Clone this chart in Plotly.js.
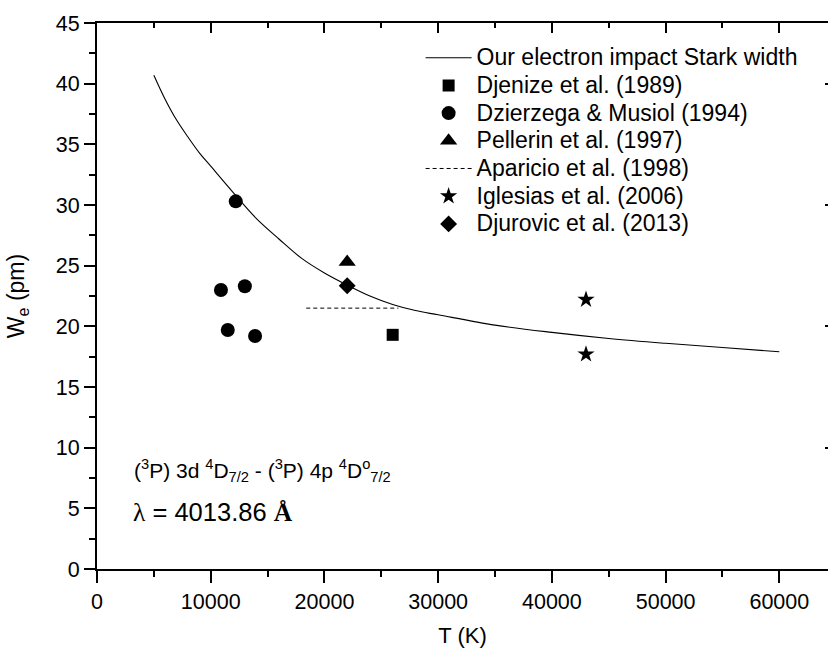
<!DOCTYPE html>
<html><head><meta charset="utf-8">
<script src="https://cdn.plot.ly/plotly-3.0.1.min.js"></script>
<style>body{margin:0;padding:0;background:#fff}</style>
</head><body>
<div id="chart" style="width:828px;height:652px"></div>
<script>
// Theory curve (electron impact Stark width)
var theoryT = [5000,6000,7000,8000,9000,10000,12000,14000,16000,18000,20000,22000,24000,26000,28000,30000,35000,40000,45000,50000,55000,60000];
var theoryW = [40.7,38.7,37.0,35.6,34.3,33.2,31.0,28.9,27.2,25.6,24.4,23.4,22.5,21.8,21.3,20.95,20.1,19.5,19.0,18.6,18.25,17.9];
// Experimental data
var djenizeT = [26000];            var djenizeW = [19.3];
var dzierzegaT = [12200,10900,13000,11500,13900]; var dzierzegaW = [30.3,23.0,23.3,19.7,19.2];
var pellerinT = [22000];           var pellerinW = [25.3];
var aparicioT = [18400,26500];     var aparicioW = [21.5,21.5];
var iglesiasT = [43000,43000];     var iglesiasW = [22.2,17.7];
var djurovicT = [22000];           var djurovicW = [23.35];
var seriesNames = ['Our electron impact Stark width','Djenize et al. (1989)','Dzierzega &amp; Musiol (1994)',
  'Pellerin et al. (1997)','Aparicio et al. (1998)','Iglesias et al. (2006)','Djurovic et al. (2013)'];

var FONT = 'Arial, "Liberation Sans", sans-serif';
var mk = function(sym, size){ return {symbol: sym, size: size, color: '#000', line:{width:0}}; };
var nm = function(i){ return '<span style="font-size:23px">' + seriesNames[i] + '</span>'; };

var traces = [
  {x: theoryT, y: theoryW, mode:'lines', line:{color:'#000', width:1.1, shape:'spline'}, name: nm(0)},
  {x: djenizeT, y: djenizeW, mode:'markers', marker: mk('square', 12), name: nm(1)},
  {x: dzierzegaT, y: dzierzegaW, mode:'markers', marker: mk('circle', 14), name: nm(2)},
  {x: pellerinT, y: pellerinW, mode:'markers', marker: mk('triangle-up', 15), name: nm(3)},
  {x: aparicioT, y: aparicioW, mode:'lines', line:{color:'#000', width:1, dash:'4px,3px'}, name: nm(4)},
  {x: iglesiasT, y: iglesiasW, mode:'markers', marker: mk('star', 13), name: nm(5)},
  {x: djurovicT, y: djurovicW, mode:'markers', marker: mk('diamond', 13), name: nm(6)},
  {x: [], y: [], xaxis:'x2', yaxis:'y2', showlegend:false, hoverinfo:'skip', mode:'markers'}
];

var xr = [0, 64280], yr = [0, 45];
var layout = {
  width: 828, height: 652,
  margin: {l:97, r:0, t:23, b:83},
  paper_bgcolor:'#fff', plot_bgcolor:'#fff',
  font: {family: FONT, color:'#000', size: 21},
  showlegend: true,
  legend: {x: 0.4427, y: 0.971, xanchor:'left', yanchor:'top', bgcolor:'rgba(0,0,0,0)',
           font:{family: FONT, size: 19, color:'#000'}, tracegroupgap:0, itemwidth:46},
  xaxis: {range: xr, showgrid:false, zeroline:false, showline:true, linewidth:2, linecolor:'#000',
          ticks:'outside', ticklen:12, tickwidth:2, tickcolor:'#000', dtick:10000, tick0:0, tickformat:'d',
          minor:{dtick:5000, ticks:'outside', ticklen:6, tickwidth:2, tickcolor:'#000', showgrid:false},
          tickfont:{size:21.5}, title:{text:'T (K)', font:{size:22}, standoff:15}},
  yaxis: {range: yr, showgrid:false, zeroline:false, showline:true, linewidth:2, linecolor:'#000',
          ticks:'outside', ticklen:11, tickwidth:2, tickcolor:'#000', dtick:5, tick0:0,
          minor:{dtick:2.5, ticks:'outside', ticklen:6, tickwidth:2, tickcolor:'#000', showgrid:false},
          tickfont:{size:21.5}, title:{text:'W<sub>e</sub> (pm)', font:{size:23}, standoff:25}},
  xaxis2: {range: xr, overlaying:'x', side:'top', showgrid:false, zeroline:false, showline:true, linewidth:2, linecolor:'#000',
           ticks:'inside', ticklen:10, tickwidth:2, tickcolor:'#000', dtick:10000, tick0:0, showticklabels:false,
           minor:{dtick:5000, ticks:'inside', ticklen:5, tickwidth:2, tickcolor:'#000', showgrid:false}},
  yaxis2: {range: yr, overlaying:'y', side:'right', showgrid:false, zeroline:false, showline:false,
           ticks:'inside', ticklen:3, tickwidth:2, tickcolor:'#000', dtick:10, tick0:0, showticklabels:false},
  annotations: [
    {xref:'paper', yref:'paper', x:(132-97)/731, y:(569-470)/546, xanchor:'left', yanchor:'middle', showarrow:false, align:'left',
     font:{family: FONT, size:21, color:'#000'},
     text:'(<sup>3</sup>P) 3d <sup>4</sup>D<sub>7/2</sub> - (<sup>3</sup>P) 4p <sup>4</sup>D<sup>o</sup><sub>7/2</sub>'},
    {xref:'paper', yref:'paper', x:(131-97)/731, y:(569-512)/546, xanchor:'left', yanchor:'middle', showarrow:false, align:'left',
     font:{family: FONT, size:25.5, color:'#000'},
     text:'<span style="font-family:\'Liberation Serif\',serif">λ</span> = 4013.86 <span style="font-family:\'Liberation Serif\',serif"><b>Å</b></span>'}
  ]
};
Plotly.newPlot('chart', traces, layout, {displayModeBar:false, staticPlot:true});
</script>
</body></html>
